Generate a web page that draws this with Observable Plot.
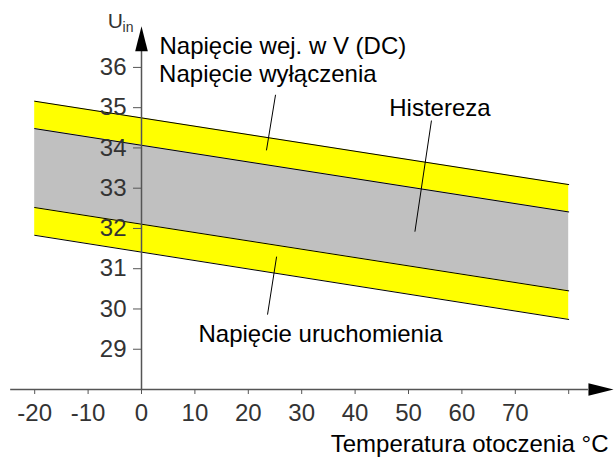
<!DOCTYPE html>
<html><head><meta charset="utf-8">
<script src="https://cdn.jsdelivr.net/npm/d3@7"></script>
<script src="https://cdn.jsdelivr.net/npm/@observablehq/plot@0.6"></script>
<style>body{margin:0;background:#fff}</style>
</head><body><div id="chart"></div>
<script>
// Temperature range of the bands (°C)
const temps = [-20, 80];
// Band boundaries (V) at the two ends of the temperature range
const offUpper = [35.16, 33.09];   // top of switch-off band
const offLower = [34.48, 32.41];   // bottom of switch-off band / top of hysteresis
const onUpper  = [32.52, 30.45];   // bottom of hysteresis / top of switch-on band
const onLower  = [31.83, 29.74];   // bottom of switch-on band

const xTicks = [-20, -10, 0, 10, 20, 30, 40, 50, 60, 70, 80];
const xTickLabels = ["-20", "-10", "0", "10", "20", "30", "40", "50", "60", "70", ""];
const yTicks = [29, 30, 31, 32, 33, 34, 35, 36];
const yTickLabels = ["29", "30", "31", "32", "33", "34", "35", "36"];

// Annotation texts and anchors (data coordinates)
const labelTexts = ["Napięcie wej. w V (DC)", "Napięcie wyłączenia", "Histereza", "Napięcie uruchomienia"];
const labelX = [3.37, 3.3, 46.4, 10.67];
const labelY = [36.33, 35.65, 34.79, 29.175];

// Leader lines
const leaderX1 = [25.1, 54.3, 25.3];
const leaderY1 = [35.32, 34.68, 31.30];
const leaderX2 = [23.4, 51.2, 23.6];
const leaderY2 = [33.94, 31.92, 29.86];

// Axis extents
const xAxisStart = -24.5, xArrowBase = 83.7, xArrowTip = 88.4, xArrowHalf = 0.156;
const yAxisStart = 28, yArrowBase = 36.40, yArrowTip = 37.02, yArrowHalf = 1.18;

const bands = temps.map((t, i) => ({t, a: offUpper[i], b: offLower[i], c: onUpper[i], d: onLower[i]}));
const boundaries = [offUpper, offLower, onUpper, onLower].flatMap((arr, k) =>
  temps.map((t, i) => ({t, v: arr[i], k})));
const labels = labelTexts.map((text, i) => ({text, x: labelX[i], y: labelY[i]}));
const leaders = leaderX1.map((x1, i) => ({x1, y1: leaderY1[i], x2: leaderX2[i], y2: leaderY2[i]}));
const xArrow = [
  {x: xArrowBase, y: 28 + xArrowHalf}, {x: xArrowTip, y: 28}, {x: xArrowBase, y: 28 - xArrowHalf}];
const yArrow = [
  {x: -yArrowHalf, y: yArrowBase}, {x: 0, y: yArrowTip}, {x: yArrowHalf, y: yArrowBase}];

const tickFont = "'Liberation Sans Narrow', 'Liberation Sans', sans-serif";
const axisColor = "#555";

const chart = Plot.plot({
  width: 614,
  height: 457,
  marginLeft: 34.2,
  marginRight: 45.8,
  marginTop: 26.65,
  marginBottom: 68,
  style: {fontFamily: "'Liberation Sans', Arial, sans-serif", fontSize: "24px", background: "#fff", color: "#000", overflow: "visible"},
  x: {domain: [-20, 80], axis: null},
  y: {domain: [28, 37], axis: null},
  marks: [
    Plot.areaY(bands, {x: "t", y1: "b", y2: "a", fill: "#ffff00"}),
    Plot.areaY(bands, {x: "t", y1: "c", y2: "b", fill: "#c0c0c0"}),
    Plot.areaY(bands, {x: "t", y1: "d", y2: "c", fill: "#ffff00"}),
    Plot.line(boundaries, {x: "t", y: "v", z: "k", stroke: "#000", strokeWidth: 1}),
    // axes lines
    Plot.ruleY([28], {x1: xAxisStart, x2: xArrowBase, stroke: axisColor, strokeWidth: 1.5}),
    Plot.ruleX([0], {y1: yAxisStart, y2: yArrowBase, stroke: axisColor, strokeWidth: 1.5}),
    Plot.line(xArrow, {x: "x", y: "y", fill: "#000", stroke: "none"}),
    Plot.line(yArrow, {x: "x", y: "y", fill: "#000", stroke: "none"}),
    Plot.axisX(xTicks, {
      anchor: "bottom", tickSize: 5, tickPadding: 9, stroke: axisColor, fill: "#333",
      fontFamily: tickFont, fontSize: 24,
      tickFormat: d => xTickLabels[xTicks.indexOf(d)]
    }),
    Plot.axisY(yTicks, {
      anchor: "left", x: 0, tickSize: 8, tickPadding: 7, stroke: axisColor, fill: "#333",
      fontFamily: tickFont, fontSize: 24,
      tickFormat: d => yTickLabels[yTicks.indexOf(d)]
    }),
    // U_in label
    Plot.text(["U"], {x: -6.3, y: 36.97, text: d => d, textAnchor: "start", lineAnchor: "bottom",
      fontFamily: tickFont, fontSize: 21, fill: "#333"}),
    Plot.text(["in"], {x: -3.55, y: 36.875, text: d => d, textAnchor: "start", lineAnchor: "bottom",
      fontFamily: tickFont, fontSize: 14, fill: "#333"}),
    // annotations
    Plot.link(leaders, {x1: "x1", y1: "y1", x2: "x2", y2: "y2", stroke: "#000", strokeWidth: 1}),
    Plot.text(labels, {x: "x", y: "y", text: "text", textAnchor: "start", lineAnchor: "bottom", fill: "#000"}),
    Plot.text(["Temperatura otoczenia °C"], {x: 87.45, y: 26.44, text: d => d, textAnchor: "end",
      lineAnchor: "bottom", fill: "#000"})
  ]
});
document.getElementById("chart").appendChild(chart);
</script>
</body></html>
